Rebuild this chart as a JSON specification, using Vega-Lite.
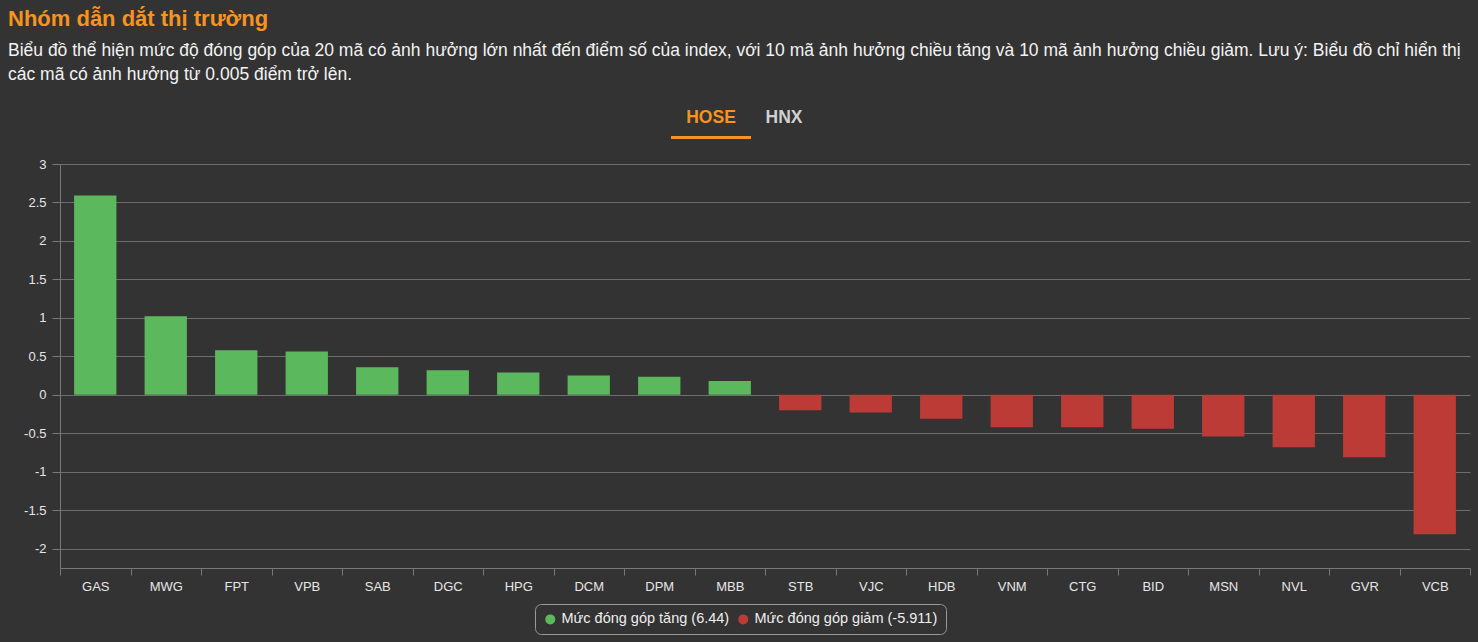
{
  "$schema": "https://vega.github.io/schema/vega-lite/v6.json",
  "background": "#333333",
  "padding": {"left": 8, "top": 7, "right": 8, "bottom": 8},
  "title": {
    "text": "Nhóm dẫn dắt thị trường",
    "subtitle": ["Biểu đồ thể hiện mức độ đóng góp của 20 mã có ảnh hưởng lớn nhất đến điểm số của index, với 10 mã ảnh hưởng chiều tăng và 10 mã ảnh hưởng chiều giảm. Lưu ý: Biểu đồ chỉ hiển thị", "các mã có ảnh hưởng từ 0.005 điểm trở lên."],
    "anchor": "start",
    "frame": "bounds",
    "font": "Liberation Sans",
    "fontSize": 22,
    "fontWeight": "bold",
    "color": "#f7931e",
    "subtitleFont": "Liberation Sans",
    "subtitleFontSize": 17.5,
    "subtitleColor": "#f2f2f2",
    "subtitleLineHeight": 24,
    "subtitlePadding": 11,
    "offset": 15
  },
  "spacing": 19,
  "vconcat": [
    {
      "width": 1410,
      "height": 40,
      "data": {"values": [{"tab": "HOSE", "active": true}, {"tab": "HNX", "active": false}]},
      "encoding": {
        "x": {"field": "tab", "type": "nominal", "sort": null,
              "scale": {"domain": ["HOSE", "HNX"], "range": [614.5, 760.5], "paddingInner": 0, "paddingOuter": 0},
              "axis": null}
      },
      "layer": [
        {
          "transform": [{"filter": "datum.active"}],
          "mark": {"type": "bar", "width": 80, "color": "#f7931e"},
          "encoding": {
            "y": {"datum": 0, "type": "quantitative", "scale": {"domain": [0, 1], "nice": false}, "axis": null},
            "y2": {"datum": 0.075}
          }
        },
        {
          "mark": {"type": "text", "font": "Liberation Sans", "fontSize": 17.5, "fontWeight": "bold"},
          "encoding": {
            "y": {"datum": 0.525, "type": "quantitative"},
            "text": {"field": "tab"},
            "color": {"condition": {"test": "datum.active", "value": "#f7931e"}, "value": "#d0d0d0"}
          }
        }
      ]
    },
    {
      "width": 1410,
      "height": 404,
      "data": {"values": [
        {"code": "GAS", "value": 2.59, "group": "Mức đóng góp tăng (6.44)"},
        {"code": "MWG", "value": 1.02, "group": "Mức đóng góp tăng (6.44)"},
        {"code": "FPT", "value": 0.58, "group": "Mức đóng góp tăng (6.44)"},
        {"code": "VPB", "value": 0.565, "group": "Mức đóng góp tăng (6.44)"},
        {"code": "SAB", "value": 0.36, "group": "Mức đóng góp tăng (6.44)"},
        {"code": "DGC", "value": 0.32, "group": "Mức đóng góp tăng (6.44)"},
        {"code": "HPG", "value": 0.29, "group": "Mức đóng góp tăng (6.44)"},
        {"code": "DCM", "value": 0.25, "group": "Mức đóng góp tăng (6.44)"},
        {"code": "DPM", "value": 0.235, "group": "Mức đóng góp tăng (6.44)"},
        {"code": "MBB", "value": 0.18, "group": "Mức đóng góp tăng (6.44)"},
        {"code": "STB", "value": -0.2, "group": "Mức đóng góp giảm (-5.911)"},
        {"code": "VJC", "value": -0.228, "group": "Mức đóng góp giảm (-5.911)"},
        {"code": "HDB", "value": -0.31, "group": "Mức đóng góp giảm (-5.911)"},
        {"code": "VNM", "value": -0.42, "group": "Mức đóng góp giảm (-5.911)"},
        {"code": "CTG", "value": -0.42, "group": "Mức đóng góp giảm (-5.911)"},
        {"code": "BID", "value": -0.44, "group": "Mức đóng góp giảm (-5.911)"},
        {"code": "MSN", "value": -0.54, "group": "Mức đóng góp giảm (-5.911)"},
        {"code": "NVL", "value": -0.68, "group": "Mức đóng góp giảm (-5.911)"},
        {"code": "GVR", "value": -0.81, "group": "Mức đóng góp giảm (-5.911)"},
        {"code": "VCB", "value": -1.81, "group": "Mức đóng góp giảm (-5.911)"}
      ]},
      "mark": {"type": "bar", "width": {"band": 0.6}},
      "encoding": {
        "x": {
          "field": "code", "type": "nominal", "sort": null,
          "scale": {"paddingInner": 0, "paddingOuter": 0},
          "axis": {"title": null, "labelAngle": 0, "tickBand": "extent", "tickSize": 7, "labelPadding": 5, "grid": false, "domainColor": "#777777", "tickColor": "#777777"}
        },
        "y": {
          "field": "value", "type": "quantitative",
          "scale": {"domain": [-2.25, 3], "nice": false},
          "axis": {"title": null, "values": [-2, -1.5, -1, -0.5, 0, 0.5, 1, 1.5, 2, 2.5, 3], "labelExpr": "'' + datum.value", "tickSize": 8, "labelPadding": 6, "minExtent": 52, "grid": true, "gridColor": "#6e6e6e", "domainColor": "#777777", "tickColor": "#777777"}
        },
        "color": {
          "field": "group", "type": "nominal",
          "scale": {"domain": ["Mức đóng góp tăng (6.44)", "Mức đóng góp giảm (-5.911)"], "range": ["#5cb85c", "#bd3b37"]},
          "legend": {
            "title": null, "orient": "none", "direction": "horizontal", "legendX": 475, "legendY": 505,
            "symbolType": "circle", "symbolSize": 100, "symbolStrokeWidth": 0,
            "labelFont": "Liberation Sans", "labelFontSize": 14.5, "labelColor": "#eeeeee",
            "strokeColor": "#9a9a9a", "cornerRadius": 6, "padding": 8, "columnPadding": 6, "labelLimit": 300
          }
        }
      }
    }
  ],
  "config": {
    "view": {"stroke": null},
    "axis": {"labelFont": "Liberation Sans", "labelFontSize": 13, "labelColor": "#e6e6e6"}
  }
}
